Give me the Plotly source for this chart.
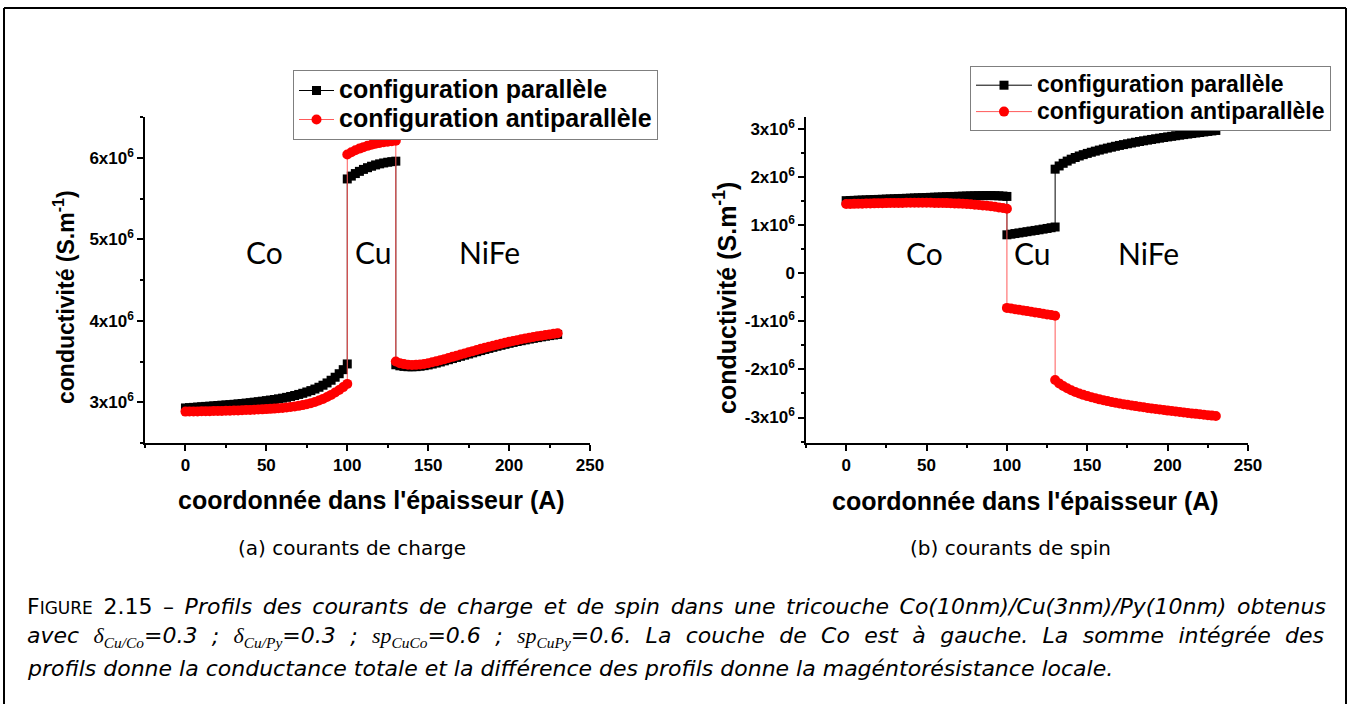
import plotly.graph_objects as go

# ---------------- data (conductivity in units of 10^6 S/m) ----------------
x_co = [0, 2.5, 5, 7.5, 10, 12.5, 15, 17.5, 20, 22.5, 25, 27.5, 30, 32.5, 35, 37.5, 40,
        42.5, 45, 47.5, 50, 52.5, 55, 57.5, 60, 62.5, 65, 67.5, 70, 72.5, 75, 77.5, 80,
        82.5, 85, 87.5, 90, 92.5, 95, 97.5, 100]
x_cu = [100, 102.5, 105, 107.5, 110, 112.5, 115, 117.5, 120, 122.5, 125, 127.5, 130]
x_nife = [130, 132.5, 135, 137.5, 140, 142.5, 145, 147.5, 150, 152.5, 155, 157.5, 160,
          162.5, 165, 167.5, 170, 172.5, 175, 177.5, 180, 182.5, 185, 187.5, 190, 192.5,
          195, 197.5, 200, 202.5, 205, 207.5, 210, 212.5, 215, 217.5, 220, 222.5, 225,
          227.5, 230]

# (a) charge currents
charge_par_co = [2.930, 2.934, 2.937, 2.941, 2.945, 2.949, 2.952, 2.956, 2.960, 2.964,
                 2.967, 2.971, 2.975, 2.980, 2.985, 2.990, 2.995, 3.001, 3.007, 3.013,
                 3.020, 3.027, 3.034, 3.042, 3.050, 3.060, 3.071, 3.083, 3.096, 3.110,
                 3.126, 3.143, 3.162, 3.184, 3.209, 3.237, 3.270, 3.307, 3.350, 3.400,
                 3.470]
charge_par_cu = [5.740, 5.775, 5.806, 5.833, 5.857, 5.878, 5.896, 5.912, 5.925, 5.936,
                 5.945, 5.952, 5.958]
charge_par_nife = [3.460, 3.447, 3.440, 3.436, 3.435, 3.437, 3.442, 3.449, 3.458, 3.469,
                   3.481, 3.494, 3.508, 3.522, 3.536, 3.550, 3.564, 3.578, 3.592, 3.606,
                   3.620, 3.634, 3.648, 3.661, 3.674, 3.687, 3.699, 3.711, 3.723, 3.734,
                   3.745, 3.755, 3.765, 3.775, 3.784, 3.793, 3.802, 3.810, 3.818, 3.825,
                   3.832]
charge_anti_co = [2.885, 2.886, 2.887, 2.888, 2.889, 2.890, 2.891, 2.892, 2.893, 2.894,
                  2.896, 2.897, 2.899, 2.900, 2.902, 2.904, 2.906, 2.908, 2.910, 2.913,
                  2.916, 2.919, 2.922, 2.926, 2.930, 2.935, 2.941, 2.948, 2.956, 2.965,
                  2.976, 2.989, 3.004, 3.021, 3.041, 3.064, 3.090, 3.119, 3.151, 3.186,
                  3.225]
charge_anti_cu = [6.040, 6.067, 6.091, 6.112, 6.130, 6.146, 6.160, 6.172, 6.182, 6.190,
                  6.197, 6.203, 6.208]
charge_anti_nife = [3.500, 3.480, 3.468, 3.461, 3.458, 3.459, 3.463, 3.470, 3.479, 3.490,
                    3.502, 3.515, 3.529, 3.543, 3.557, 3.571, 3.585, 3.599, 3.613, 3.627,
                    3.641, 3.655, 3.668, 3.681, 3.694, 3.706, 3.718, 3.730, 3.741, 3.752,
                    3.762, 3.772, 3.782, 3.791, 3.800, 3.809, 3.817, 3.825, 3.832, 3.839,
                    3.846]

# (b) spin currents
spin_par_co = [1.510, 1.513, 1.516, 1.520, 1.523, 1.526, 1.530, 1.533, 1.536, 1.539,
               1.543, 1.546, 1.549, 1.553, 1.556, 1.559, 1.562, 1.566, 1.569, 1.572,
               1.575, 1.579, 1.582, 1.585, 1.588, 1.592, 1.595, 1.598, 1.601, 1.604,
               1.607, 1.610, 1.612, 1.614, 1.615, 1.616, 1.616, 1.614, 1.611, 1.606,
               1.598]
spin_par_cu = [0.800, 0.813, 0.826, 0.839, 0.852, 0.865, 0.878, 0.891, 0.904, 0.918,
               0.932, 0.947, 0.962]
spin_par_nife = [2.165, 2.232, 2.287, 2.333, 2.373, 2.408, 2.439, 2.467, 2.493, 2.517,
                 2.540, 2.562, 2.583, 2.603, 2.622, 2.641, 2.659, 2.676, 2.693, 2.709,
                 2.725, 2.740, 2.755, 2.769, 2.783, 2.797, 2.810, 2.823, 2.836, 2.848,
                 2.860, 2.872, 2.884, 2.895, 2.906, 2.917, 2.928, 2.939, 2.950, 2.960,
                 2.970]
spin_anti_co = [1.440, 1.442, 1.444, 1.446, 1.448, 1.450, 1.452, 1.454, 1.456, 1.458,
                1.459, 1.461, 1.462, 1.463, 1.464, 1.465, 1.466, 1.466, 1.466, 1.466,
                1.466, 1.465, 1.464, 1.463, 1.461, 1.459, 1.456, 1.453, 1.449, 1.445,
                1.440, 1.434, 1.427, 1.420, 1.412, 1.403, 1.393, 1.382, 1.370, 1.357,
                1.343]
spin_anti_cu = [-0.720, -0.733, -0.747, -0.760, -0.774, -0.787, -0.801, -0.814, -0.828,
                -0.841, -0.855, -0.869, -0.885]
spin_anti_nife = [-2.220, -2.290, -2.345, -2.392, -2.432, -2.468, -2.500, -2.529, -2.555,
                  -2.579, -2.601, -2.622, -2.641, -2.659, -2.676, -2.692, -2.707, -2.722,
                  -2.736, -2.750, -2.763, -2.776, -2.788, -2.800, -2.812, -2.823, -2.834,
                  -2.845, -2.856, -2.866, -2.876, -2.886, -2.896, -2.906, -2.915, -2.924,
                  -2.933, -2.942, -2.951, -2.960, -2.969]

series_names = ["configuration parallèle", "configuration antiparallèle"]
x_ticks = [0, 50, 100, 150, 200, 250]
x_minor = [-25, 25, 75, 125, 175, 225]
ya_ticks = [3, 4, 5, 6]
ya_text = ["3x10<sup>6</sup>", "4x10<sup>6</sup>", "5x10<sup>6</sup>", "6x10<sup>6</sup>"]
ya_minor = [2.5, 3.5, 4.5, 5.5, 6.5]
yb_ticks = [-3, -2, -1, 0, 1, 2, 3]
yb_text = ["-3x10<sup>6</sup>", "-2x10<sup>6</sup>", "-1x10<sup>6</sup>", "0",
           "1x10<sup>6</sup>", "2x10<sup>6</sup>", "3x10<sup>6</sup>"]
yb_minor = [-3.5, -2.5, -1.5, -0.5, 0.5, 1.5, 2.5]
layer_names = ["Co", "Cu", "NiFe"]
layer_x = [49, 116, 188]

W, H = 1353, 704
def px(x):
    return x / W
def py(y):
    return 1 - y / H

x_all = x_co + x_cu + x_nife
BLACK = "#000000"
RED = "#ff0000"
ARIAL = "Liberation Sans, Arial, sans-serif"
CAP = "DejaVu Sans, sans-serif"

def big(name, size):
    return "<span style='font-size:%dpx'>%s</span>" % (size, name)

fig = go.Figure()
# (a)
fig.add_trace(go.Scatter(x=x_all, y=charge_par_co + charge_par_cu + charge_par_nife,
                         mode="lines+markers", name=big(series_names[0], 25),
                         line=dict(color=BLACK, width=1),
                         marker=dict(symbol="square", size=9, color=BLACK, line=dict(width=0)),
                         xaxis="x", yaxis="y", legend="legend"))
fig.add_trace(go.Scatter(x=x_all, y=charge_anti_co + charge_anti_cu + charge_anti_nife,
                         mode="lines+markers", name=big(series_names[1], 25),
                         line=dict(color="#ff5a5a", width=1),
                         marker=dict(symbol="circle", size=10, color=RED, line=dict(width=0)),
                         xaxis="x", yaxis="y", legend="legend"))
# (b)
fig.add_trace(go.Scatter(x=x_all, y=spin_par_co + spin_par_cu + spin_par_nife,
                         mode="lines+markers", name=big(series_names[0], 23),
                         line=dict(color=BLACK, width=1),
                         marker=dict(symbol="square", size=9, color=BLACK, line=dict(width=0)),
                         xaxis="x2", yaxis="y2", legend="legend2"))
fig.add_trace(go.Scatter(x=x_all, y=spin_anti_co + spin_anti_cu + spin_anti_nife,
                         mode="lines+markers", name=big(series_names[1], 23),
                         line=dict(color="#ff5a5a", width=1),
                         marker=dict(symbol="circle", size=10, color=RED, line=dict(width=0)),
                         xaxis="x2", yaxis="y2", legend="legend2"))

tickfont = dict(family=ARIAL, size=17, color="black", weight="bold")
axis_common = dict(showline=True, linecolor="black", linewidth=1.5, ticks="outside",
                   ticklen=6, tickwidth=1.5, tickcolor="black", showgrid=False,
                   zeroline=False, mirror=False, automargin=False, tickfont=tickfont)
minor_common = dict(ticklen=3, tickwidth=1.5, tickcolor="black", ticks="outside")

fig.update_layout(
    width=W, height=H, margin=dict(l=0, r=0, t=0, b=0),
    paper_bgcolor="white", plot_bgcolor="white", showlegend=True,
    xaxis=dict(domain=[px(145), px(590)], range=[-25, 250], anchor="y",
               tickmode="array", tickvals=x_ticks,
               minor=dict(tickvals=x_minor, **minor_common), **axis_common),
    yaxis=dict(domain=[py(443), py(117)], range=[2.5, 6.5], anchor="x",
               tickmode="array", tickvals=ya_ticks, ticktext=ya_text,
               minor=dict(tickvals=ya_minor, **minor_common), **axis_common),
    xaxis2=dict(domain=[px(806), px(1248)], range=[-25, 250], anchor="y2",
                tickmode="array", tickvals=x_ticks,
                minor=dict(tickvals=x_minor, **minor_common), **axis_common),
    yaxis2=dict(domain=[py(443), py(117)], range=[-3.53, 3.25], anchor="x2",
                tickmode="array", tickvals=yb_ticks, ticktext=yb_text,
                minor=dict(tickvals=yb_minor, **minor_common), **axis_common),
    legend=dict(x=px(293), y=py(70), xanchor="left", yanchor="top",
                bgcolor="white", bordercolor="#7f7f7f", borderwidth=1,
                font=dict(family=ARIAL, size=20, color="black", weight="bold"),
                itemwidth=35, tracegroupgap=0),
    legend2=dict(x=px(970), y=py(66), xanchor="left", yanchor="top",
                 bgcolor="white", bordercolor="#7f7f7f", borderwidth=1,
                 font=dict(family=ARIAL, size=18, color="black", weight="bold"),
                 itemwidth=56, tracegroupgap=0),
)

ann = []
# layer labels
for name, lx in zip(layer_names, layer_x):
    ann.append(dict(x=lx, y=4.84, xref="x", yref="y", text=name, showarrow=False,
                    xanchor="center", yanchor="middle",
                    font=dict(family="Lato, sans-serif", size=30, color="black")))
    ann.append(dict(x=lx, y=0.42, xref="x2", yref="y2", text=name, showarrow=False,
                    xanchor="center", yanchor="middle",
                    font=dict(family="Lato, sans-serif", size=30, color="black")))
# axis titles
ann.append(dict(x=px(64), y=py(297), xref="paper", yref="paper", textangle=-90,
                xanchor="center", yanchor="middle",
                text="conductivité (S.m<sup>-1</sup>)", showarrow=False,
                font=dict(family=ARIAL, size=23, color="black", weight="bold")))
ann.append(dict(x=px(725), y=py(298), xref="paper", yref="paper", textangle=-90,
                xanchor="center", yanchor="middle",
                text="conductivité (S.m<sup>-1</sup>)", showarrow=False,
                font=dict(family=ARIAL, size=25, color="black", weight="bold")))
ann.append(dict(x=px(371), y=py(500), xref="paper", yref="paper",
                xanchor="center", yanchor="middle",
                text="coordonnée dans l'épaisseur (A)", showarrow=False,
                font=dict(family=ARIAL, size=25, color="black", weight="bold")))
ann.append(dict(x=px(1025), y=py(501), xref="paper", yref="paper",
                xanchor="center", yanchor="middle",
                text="coordonnée dans l'épaisseur (A)", showarrow=False,
                font=dict(family=ARIAL, size=25, color="black", weight="bold")))
# sub captions
ann.append(dict(x=px(352), y=py(548), xref="paper", yref="paper",
                xanchor="center", yanchor="middle",
                text="(a) courants de charge", showarrow=False,
                font=dict(family=CAP, size=20, color="black")))
ann.append(dict(x=px(1010), y=py(548), xref="paper", yref="paper",
                xanchor="center", yanchor="middle",
                text="(b) courants de spin", showarrow=False,
                font=dict(family=CAP, size=20, color="black")))
# figure caption
SERIF = "font-family:Liberation Serif"
cap_lines = [
    "<span style='word-spacing:3.6px'>F<span style='font-size:17px'>IGURE</span> 2.15 – <i>Profils des courants de charge et de spin dans une tricouche Co(10nm)/Cu(3nm)/Py(10nm) obtenus</i></span>",
    "<span style='word-spacing:7.4px'><i>avec <span style='" + SERIF + "'>δ<sub>Cu/Co</sub></span>=0.3 ; <span style='" + SERIF + "'>δ<sub>Cu/Py</sub></span>=0.3 ; "
    "<span style='" + SERIF + "'>sp<sub>CuCo</sub></span>=0.6 ; <span style='" + SERIF + "'>sp<sub>CuPy</sub></span>=0.6. "
    "La couche de Co est à gauche. La somme intégrée des</i></span>",
    "<i>profils donne la conductance totale et la différence des profils donne la magéntorésistance locale.</i>",
]
for txt, yy in zip(cap_lines, [606, 637, 668]):
    ann.append(dict(x=px(25), y=py(yy), xref="paper", yref="paper", xanchor="left",
                    yanchor="middle", text=txt, showarrow=False,
                    font=dict(family=CAP, size=22, color="black")))
fig.update_layout(annotations=ann)

# outer frame
frame = dict(type="line", xref="paper", yref="paper", line=dict(color="black", width=2))
fig.update_layout(shapes=[
    dict(frame, x0=px(4), x1=px(1346), y0=py(8), y1=py(8)),
    dict(frame, x0=px(4), x1=px(4), y0=py(8), y1=0),
    dict(frame, x0=px(1346), x1=px(1346), y0=py(8), y1=0),
])

fig.write_html("out.html", config={"displayModeBar": False},
               post_script="document.body.style.margin='0';")
